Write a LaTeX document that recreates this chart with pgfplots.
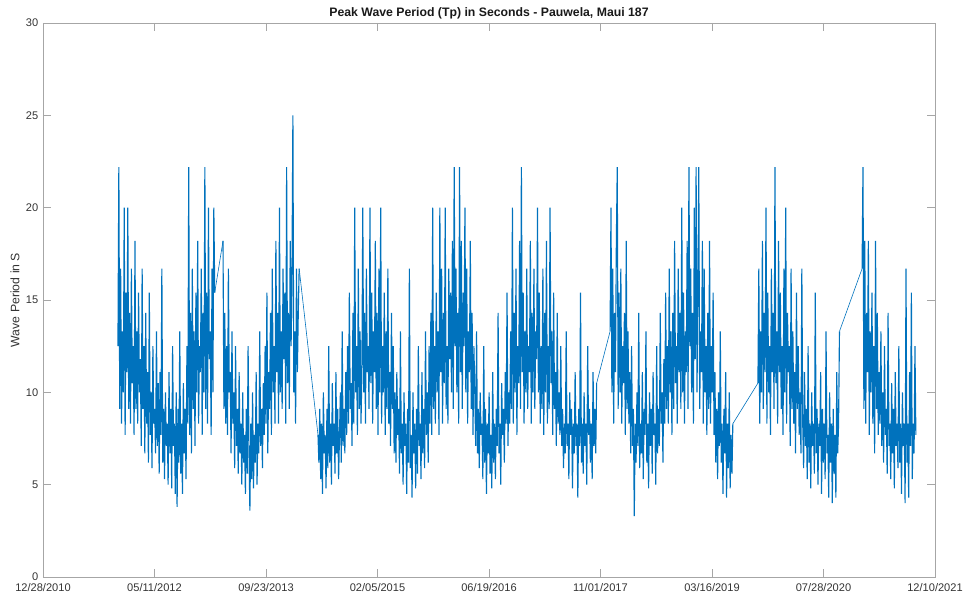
\documentclass[border=0pt]{standalone}
\usepackage{fontspec}
\setmainfont{Liberation Sans}
\usepackage{pgfplots}
\pgfplotsset{compat=1.18}
\definecolor{mblue}{HTML}{0072BD}
\definecolor{axgray}{HTML}{A6A6A6}
\definecolor{txtgray}{HTML}{333333}
\begin{document}
\begin{tikzpicture}
\begin{axis}[
  name=ax,
  scale only axis,
  width=669pt, height=415.5pt,
  xmin=13.4, xmax=3995.5,
  ymin=0, ymax=30,
  xtick={13.4,511.2,1008.9,1506.7,2004.4,2502.2,3000,3497.7,3995.5},
  xticklabels={12/28/2010,05/11/2012,09/23/2013,02/05/2015,06/19/2016,11/01/2017,03/16/2019,07/28/2020,12/10/2021},
  ytick={0,5,10,15,20,25,30},
  tick align=inside,
  xtick pos=both, ytick pos=both,
  major tick length=6pt,
  axis line style={axgray, line width=0.6pt},
  every tick/.style={axgray, line width=0.6pt},
  tick label style={font=\fontsize{8.3}{10}\selectfont, text=txtgray},
  /pgf/number format/assume math mode=true,
  xticklabel style={yshift=-1pt},
  title={Peak Wave Period (Tp) in Seconds - Pauwela, Maui 187},
  title style={font=\bfseries\fontsize{9.2}{11}\selectfont, text=black!90, yshift=-6.5pt},
  ylabel={Wave Period in S},
  ylabel style={font=\fontsize{9.2}{11}\selectfont, text=txtgray, yshift=-2pt},
  unbounded coords=jump,
]
% straight connecting lines across the gaps in the record
\addplot[color=mblue, line width=0.45pt] table {
780 15.4
817 18.2
800 nan
1157 16.7
1241 7.7
1200 nan
2485 10.5
2545 13.3
2500 nan
3093 8.3
3205 10.5
3150 nan
3569 13.3
3670 16.7
};
\addplot[color=mblue, line width=0.85pt] table {
348 12.5
352 22.2
356 9.1
360 16.7
364 8.3
368 13.3
372 10
376 20
380 7.7
384 15.4
388 11.1
392 20
396 9.1
400 14.3
404 8.3
408 16.7
412 10.5
416 12.5
420 7.7
424 18.2
428 9.1
432 13.3
436 8.3
440 15.4
444 10
448 11.8
452 7.1
456 16.7
460 9.1
464 12.5
468 6.7
472 14.3
476 8.3
480 11.1
484 6.2
488 15.4
492 7.7
496 10
500 5.9
504 12.5
508 8.3
512 9.1
516 6.7
520 13.3
524 7.1
528 10.5
532 5.6
536 11.1
540 7.7
544 16.7
548 6.2
552 9.1
556 5.3
560 10
564 7.1
568 8.3
572 5
576 11.1
580 6.7
584 9.1
588 4.8
592 12.5
596 7.1
600 8.3
604 4.5
608 10
612 3.8
616 9.1
620 6.2
624 13.3
628 5.6
632 8.3
636 4.5
640 10.5
644 6.7
648 9.1
652 5.3
656 12.5
660 8.3
664 22.2
668 7.7
672 14.3
676 6.7
680 16.7
684 9.1
688 13.3
692 7.1
696 15.4
700 10
704 18.2
708 8.3
712 12.5
716 11.1
720 16.7
724 7.7
728 14.3
732 10
736 22.2
740 9.1
744 15.4
748 8.3
752 20
756 11.8
760 13.3
764 7.7
768 16.7
772 10
776 20
780 15.4
800 nan
817 18.2
821 9.1
825 14.3
829 8.3
833 12.5
837 7.7
841 16.7
845 10
849 11.1
853 6.7
857 13.3
861 8.3
865 10
869 5.9
873 12.5
877 7.1
881 9.1
885 5.6
889 11.1
893 6.7
897 8.3
901 5
905 10
909 6.2
913 7.7
917 4.5
921 9.1
925 5.6
929 12.5
933 6.7
937 3.6
941 8.3
945 5.3
949 10
953 4.8
957 7.7
961 6.2
965 11.1
969 5
973 8.3
977 6.7
981 13.3
985 7.1
989 9.1
993 5.9
997 10.5
1001 7.7
1005 12.5
1009 8.3
1013 15.4
1017 6.7
1021 11.1
1025 9.1
1029 14.3
1033 7.7
1037 16.7
1041 10
1045 12.5
1049 8.3
1053 18.2
1057 11.1
1061 14.3
1065 8.3
1069 20
1073 10
1077 13.3
1081 9.1
1085 16.7
1089 11.8
1093 15.4
1097 8.3
1101 22.2
1105 10.5
1109 14.3
1113 9.1
1117 18.2
1121 12.5
1125 16.7
1129 25
1133 10
1137 13.3
1141 8.3
1145 16.7
1149 11.1
1153 14.3
1157 16.7
1200 nan
1241 7.7
1245 6.2
1249 9.1
1253 5.3
1257 8.3
1261 4.5
1265 10
1269 6.7
1273 7.7
1277 4.8
1281 9.1
1285 5.9
1289 12.5
1293 6.2
1297 8.3
1301 5
1305 10.5
1309 7.1
1313 8.3
1317 5.6
1321 11.1
1325 6.7
1329 9.1
1333 5.3
1337 7.7
1341 10
1345 6.2
1349 13.3
1353 7.1
1357 9.1
1361 6.7
1365 11.1
1369 7.7
1373 12.5
1377 8.3
1381 15.4
1385 9.1
1389 10.5
1393 7.1
1397 14.3
1401 8.3
1405 20
1409 10
1413 12.5
1417 7.7
1421 16.7
1425 9.1
1429 13.3
1433 8.3
1437 11.1
1441 20
1445 10
1449 14.3
1453 8.3
1457 16.7
1461 11.1
1465 12.5
1469 9.1
1473 20
1477 10.5
1481 15.4
1485 8.3
1489 13.3
1493 11.1
1497 18.2
1501 9.1
1505 14.3
1509 7.7
1513 16.7
1517 10
1521 20
1525 8.3
1529 12.5
1533 10
1537 15.4
1541 7.7
1545 13.3
1549 9.1
1553 16.7
1557 8.3
1561 11.1
1565 7.1
1569 14.3
1573 9.1
1577 12.5
1581 6.7
1585 10
1589 6.2
1593 11.1
1597 7.7
1601 9.1
1605 5.6
1609 13.3
1613 6.7
1617 8.3
1621 5
1625 10
1629 7.1
1633 8.3
1637 4.5
1641 9.1
1645 6.2
1649 16.7
1653 5.9
1657 7.7
1661 4.3
1665 10
1669 6.7
1673 8.3
1677 4.8
1681 9.1
1685 5.6
1689 12.5
1693 7.1
1697 8.3
1701 5.3
1705 11.1
1709 6.7
1713 9.1
1717 5.9
1721 13.3
1725 7.7
1729 10
1733 6.2
1737 12.5
1741 8.3
1745 14.3
1749 7.7
1753 20
1757 9.1
1761 12.5
1765 8.3
1769 15.4
1773 10
1777 13.3
1781 7.7
1785 20
1789 11.1
1793 16.7
1797 8.3
1801 14.3
1805 10.5
1809 20
1813 9.1
1817 12.5
1821 8.3
1825 16.7
1829 11.8
1833 15.4
1837 10
1841 18.2
1845 9.1
1849 22.2
1853 12.5
1857 16.7
1861 10
1865 14.3
1869 8.3
1873 22.2
1877 11.1
1881 18.2
1885 9.1
1889 15.4
1893 12.5
1897 20
1901 10
1905 16.7
1909 8.3
1913 13.3
1917 11.1
1921 18.2
1925 9.1
1929 14.3
1933 7.7
1937 12.5
1941 10
1945 7.1
1949 13.3
1953 6.7
1957 9.1
1961 5.9
1965 10
1969 7.7
1973 8.3
1977 5.3
1981 12.5
1985 6.2
1989 9.1
1993 4.5
1997 8.3
2001 6.7
2005 10
2009 5.6
2013 7.7
2017 4.8
2021 11.1
2025 6.2
2029 8.3
2033 5.3
2037 9.1
2041 7.1
2045 14.3
2049 6.7
2053 8.3
2057 5
2061 10.5
2065 7.7
2069 9.1
2073 6.2
2077 11.1
2081 8.3
2085 15.4
2089 7.1
2093 10
2097 8.3
2101 13.3
2105 9.1
2109 20
2113 8.3
2117 14.3
2121 10
2125 16.7
2129 7.7
2133 12.5
2137 10.5
2141 18.2
2145 9.1
2149 22.2
2153 11.1
2157 15.4
2161 8.3
2165 13.3
2169 10
2173 16.7
2177 9.1
2181 12.5
2185 11.1
2189 18.2
2193 8.3
2197 14.3
2201 10
2205 16.7
2209 9.1
2213 13.3
2217 11.8
2221 20
2225 10
2229 15.4
2233 8.3
2237 12.5
2241 9.1
2245 16.7
2249 7.7
2253 14.3
2257 10
2261 18.2
2265 8.3
2269 12.5
2273 9.1
2277 20
2281 10.5
2285 13.3
2289 7.7
2293 15.4
2297 9.1
2301 11.1
2305 7.1
2309 14.3
2313 8.3
2317 10
2321 7.7
2325 12.5
2329 7.1
2333 9.1
2337 5.9
2341 8.3
2345 6.7
2349 13.3
2353 7.1
2357 8.3
2361 5.3
2365 10
2369 7.7
2373 9.1
2377 4.8
2381 8.3
2385 6.7
2389 11.1
2393 7.1
2397 8.3
2401 4.3
2405 9.1
2409 7.1
2413 15.4
2417 6.2
2421 8.3
2425 5.6
2429 10
2433 7.1
2437 8.3
2441 5
2445 12.5
2449 7.7
2453 9.1
2457 6.2
2461 8.3
2465 5.3
2469 11.1
2473 7.1
2477 9.1
2481 6.7
2485 10.5
2500 nan
2545 13.3
2549 20
2553 10
2557 16.7
2561 8.3
2565 14.3
2569 11.1
2573 18.2
2577 22.2
2581 9.1
2585 15.4
2589 10
2593 16.7
2597 8.3
2601 12.5
2605 10.5
2609 14.3
2613 7.7
2617 18.2
2621 9.1
2625 13.3
2629 8.3
2633 11.1
2637 6.7
2641 12.5
2645 7.1
2649 9.1
2653 3.3
2657 8.3
2661 6.2
2665 10
2669 7.1
2673 14.3
2677 5.9
2681 8.3
2685 6.7
2689 11.1
2693 5.3
2697 9.1
2701 7.7
2705 13.3
2709 6.2
2713 8.3
2717 4.8
2721 10
2725 7.1
2729 9.1
2733 5.6
2737 11.1
2741 7.7
2745 8.3
2749 5
2753 12.5
2757 6.7
2761 9.1
2765 7.1
2769 14.3
2773 8.3
2777 10
2781 6.2
2785 11.8
2789 8.3
2793 15.4
2797 9.1
2801 12.5
2805 8.3
2809 16.7
2813 10
2817 13.3
2821 7.7
2825 14.3
2829 9.1
2833 18.2
2837 10.5
2841 12.5
2845 8.3
2849 16.7
2853 11.1
2857 14.3
2861 9.1
2865 20
2869 10
2873 15.4
2877 8.3
2881 13.3
2885 11.1
2889 18.2
2893 9.1
2897 22.2
2901 12.5
2905 16.7
2909 10
2913 14.3
2917 8.3
2921 20
2925 11.8
2929 22.2
2933 10
2937 15.4
2941 22.2
2945 9.1
2949 13.3
2953 11.1
2957 18.2
2961 8.3
2965 16.7
2969 10
2973 12.5
2977 7.7
2981 14.3
2985 9.1
2989 18.2
2993 8.3
2997 12.5
3001 10
3005 15.4
3009 7.7
3013 11.1
3017 6.2
3021 9.1
3025 5.3
3029 10
3033 7.1
3037 13.3
3041 6.2
3045 8.3
3049 4.5
3053 9.1
3057 6.7
3061 11.1
3065 4.3
3069 8.3
3073 5.9
3077 10
3081 4.8
3085 7.7
3089 5.6
3093 8.3
3150 nan
3205 10.5
3209 16.7
3213 8.3
3217 13.3
3221 10
3225 18.2
3229 9.1
3233 14.3
3237 11.1
3241 20
3245 8.3
3249 15.4
3253 10
3257 12.5
3261 7.7
3265 16.7
3269 11.1
3273 14.3
3277 9.1
3281 22.2
3285 10.5
3289 13.3
3293 8.3
3297 18.2
3301 11.1
3305 15.4
3309 9.1
3313 12.5
3317 7.7
3321 16.7
3325 10
3329 20
3333 8.3
3337 14.3
3341 11.1
3345 12.5
3349 7.1
3353 16.7
3357 9.1
3361 13.3
3365 8.3
3369 11.1
3373 6.7
3377 15.4
3381 9.1
3385 12.5
3389 7.7
3393 10
3397 6.7
3401 16.7
3405 8.3
3409 5.9
3413 11.1
3417 7.1
3421 9.1
3425 5.3
3429 12.5
3433 6.2
3437 8.3
3441 4.8
3445 10
3449 7.1
3453 8.3
3457 5.6
3461 15.4
3465 6.7
3469 9.1
3473 5
3477 8.3
3481 7.1
3485 11.1
3489 4.5
3493 9.1
3497 6.2
3501 8.3
3505 5.3
3509 13.3
3513 6.7
3517 7.7
3521 4.3
3525 10
3529 6.2
3533 8.3
3537 4
3541 9.1
3545 5.6
3549 7.7
3553 4.3
3557 11.1
3561 6.7
3565 8.3
3569 13.3
3620 nan
3670 16.7
3674 22.2
3678 9.1
3682 18.2
3686 8.3
3690 14.3
3694 11.1
3698 18.2
3702 7.7
3706 13.3
3710 10
3714 15.4
3718 8.3
3722 12.5
3726 6.7
3730 18.2
3734 9.1
3738 14.3
3742 7.7
3746 11.1
3750 8.3
3754 13.3
3758 7.1
3762 10
3766 6.2
3770 12.5
3774 7.7
3778 9.1
3782 5.6
3786 14.3
3790 7.1
3794 8.3
3798 5.3
3802 10.5
3806 6.7
3810 9.1
3814 4.8
3818 11.1
3822 7.1
3826 8.3
3830 5.9
3834 12.5
3838 6.2
3842 8.3
3846 4.5
3850 10
3854 7.1
3858 8.3
3862 4
3866 16.7
3870 6.2
3874 8.3
3878 4.3
3882 11.1
3886 7.1
3890 15.4
3894 5.3
3898 8.3
3902 6.7
3906 12.5
3910 7.7
};
\end{axis}
\pgfresetboundingbox
\path ([xshift=-32.25pt,yshift=-18.75pt]ax.south west) rectangle ([xshift=27pt,yshift=17.25pt]ax.north east);
\end{tikzpicture}
\end{document}
